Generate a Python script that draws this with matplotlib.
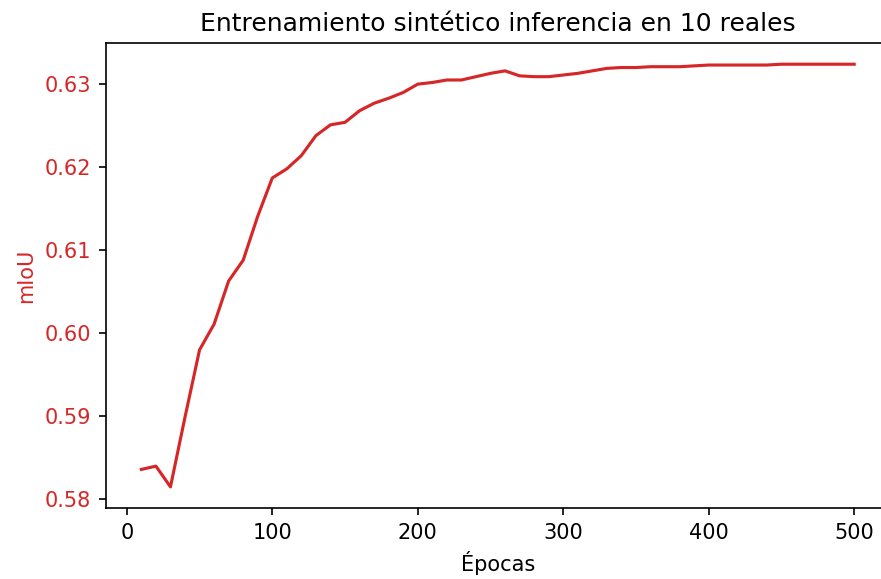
import numpy as np
import matplotlib
matplotlib.use("Agg")
import matplotlib.pyplot as plt

# Epochs and mIoU values
epochs = list(range(10, 510, 10))
miou = [0.5836, 0.5840, 0.5815, 0.5899, 0.5980, 0.6011, 0.6063, 0.6088, 0.6141, 0.6187,
        0.6198, 0.6214, 0.6238, 0.6251, 0.6254, 0.6268, 0.6277, 0.6283, 0.6290, 0.6300,
        0.6302, 0.6305, 0.6305, 0.6309, 0.6313, 0.6316, 0.6310, 0.6309, 0.6309, 0.6311,
        0.6313, 0.6316, 0.6319, 0.6320, 0.6320, 0.6321, 0.6321, 0.6321, 0.6322, 0.6323,
        0.6323, 0.6323, 0.6323, 0.6323, 0.6324, 0.6324, 0.6324, 0.6324, 0.6324, 0.6324]

title = "Entrenamiento sintético inferencia en 10 reales"
color = "tab:red"

fig = plt.figure(figsize=(881 / 150, 579 / 150), dpi=150)
ax = fig.add_axes([0.12, 0.1226, 0.890, 0.803])

ax.plot(epochs, miou, color=color)
ax.set_xlabel("Épocas")
ax.set_ylabel("mIoU", color=color)
ax.tick_params(axis="y", labelcolor=color)
ax.set_title(title)

fig.savefig("out.png", dpi=150)
